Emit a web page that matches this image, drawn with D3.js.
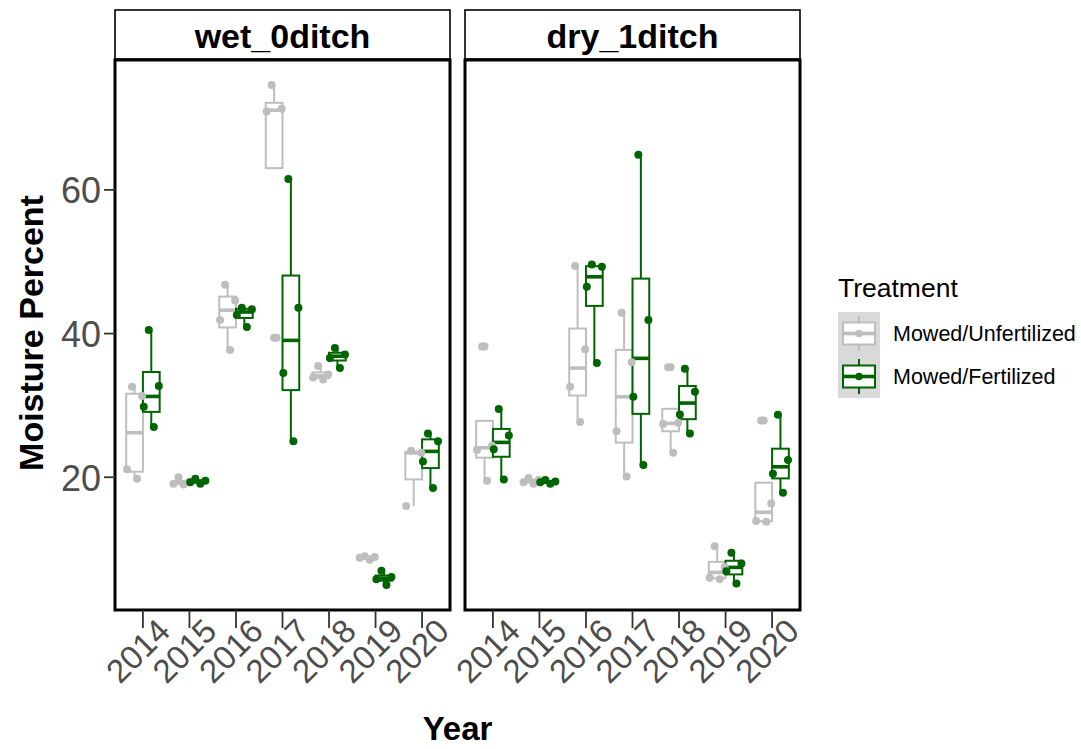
<!DOCTYPE html>
<html>
<head>
<meta charset="utf-8">
<script src="https://cdn.jsdelivr.net/npm/d3@7"></script>
<style>
  body { margin: 0; background: #ffffff; }
  svg { display: block; }
  text { font-family: "Liberation Sans", Arial, Helvetica, sans-serif; }
</style>
</head>
<body>
<svg id="chart" width="1081" height="749"></svg>
<script>
// ---- data: soil moisture (%) per plot, by year, site and treatment ----
const years = ["2014", "2015", "2016", "2017", "2018", "2019", "2020"];
const facets = ["wet_0ditch", "dry_1ditch"];
const treatments = ["Mowed/Unfertilized", "Mowed/Fertilized"];

// one inner array per year (same order as `years`)
const wetUnfertilized = [
  [32.6, 31.3, 21.1, 19.8],
  [20.0, 19.3, 19.1, 19.0],
  [46.8, 44.6, 41.9, 37.7],
  [74.6, 71.3, 70.9, 39.4],
  [35.5, 34.3, 33.9, 33.6],
  [9.0, 8.9, 8.8, 8.5],
  [23.7, 23.4, 16.0]
];
const wetFertilized = [
  [40.5, 32.7, 29.8, 27.0],
  [19.8, 19.5, 19.3, 19.1],
  [43.6, 43.4, 42.6, 40.9],
  [61.5, 43.6, 34.5, 25.0],
  [38.0, 37.1, 36.6, 35.2],
  [7.0, 6.1, 5.8, 5.0],
  [26.1, 25.0, 22.2, 18.5]
];
const dryUnfertilized = [
  [38.2, 24.4, 23.8, 19.5],
  [19.9, 19.6, 19.3, 19.1],
  [49.4, 37.8, 32.6, 27.7],
  [42.9, 36.0, 26.4, 20.1],
  [35.3, 27.6, 27.4, 23.4],
  [10.4, 7.5, 6.0, 5.8],
  [27.9, 16.35, 13.9, 13.8]
];
const dryFertilized = [
  [29.5, 25.8, 23.9, 19.7],
  [19.6, 19.4, 19.3, 19.1],
  [49.6, 49.3, 46.5, 35.9],
  [64.9, 41.9, 31.2, 21.7],
  [35.1, 31.9, 28.75, 26.1],
  [9.5, 8.0, 6.9, 5.2],
  [28.7, 22.4, 20.5, 17.85]
];
const yTicks = [20, 40, 60];

const seriesByFacet = {
  "wet_0ditch": { "Mowed/Unfertilized": wetUnfertilized, "Mowed/Fertilized": wetFertilized },
  "dry_1ditch": { "Mowed/Unfertilized": dryUnfertilized, "Mowed/Fertilized": dryFertilized }
};
const colour = d3.scaleOrdinal().domain(treatments).range(["#bebebe", "#006400"]);

// ---- layout ----
const svg = d3.select("#chart");
const panelTop = 60, panelBottom = 610;
const stripTop = 10, stripBottom = 59;
const panelLeft = 115, panelWidth = 335, panelGap = 15;

// shared y scale with 5% expansion on each side
const allValues = facets.flatMap(f => treatments.flatMap(t => seriesByFacet[f][t].flat()));
const [vMin, vMax] = d3.extent(allValues);
const pad = (vMax - vMin) * 0.05;
const y = d3.scaleLinear().domain([vMin - pad, vMax + pad]).range([panelBottom, panelTop]);

// Tukey box statistics (type-7 quantiles, 1.5 IQR whiskers)
function boxStats(values) {
  const s = values.slice().sort(d3.ascending);
  const q1 = d3.quantile(s, 0.25), med = d3.quantile(s, 0.5), q3 = d3.quantile(s, 0.75);
  const iqr = q3 - q1;
  const inside = s.filter(v => v >= q1 - 1.5 * iqr && v <= q3 + 1.5 * iqr);
  const outliers = s.filter(v => v < q1 - 1.5 * iqr || v > q3 + 1.5 * iqr);
  return { q1, med, q3, lo: Math.min(d3.min(inside), q1), hi: Math.max(d3.max(inside), q3), outliers };
}

// fixed jitter pattern (fraction of box width) so points sit beside each other
const jitterPattern = [-0.15, 0.45, -0.45, 0.15, 0.3];

facets.forEach((facet, fi) => {
  const x0 = panelLeft + fi * (panelWidth + panelGap);
  const x1 = x0 + panelWidth;
  const x = d3.scalePoint().domain(years).range([x0, x1]).padding(0.6);
  const step = x.step();
  const dodge = d3.scaleBand().domain(treatments).range([-0.36 * step, 0.36 * step]);
  const bw = dodge.bandwidth();

  const g = svg.append("g");

  // strip
  g.append("rect")
    .attr("x", x0).attr("y", stripTop)
    .attr("width", panelWidth).attr("height", stripBottom - stripTop)
    .attr("fill", "#ffffff").attr("stroke", "#000000").attr("stroke-width", 1.6);
  g.append("text")
    .attr("x", (x0 + x1) / 2).attr("y", (stripTop + stripBottom) / 2 + 1)
    .attr("text-anchor", "middle").attr("dominant-baseline", "central")
    .attr("font-size", 34).attr("font-weight", "bold").attr("fill", "#000000")
    .text(facet);

  // boxes
  treatments.forEach(tr => {
    const col = colour(tr);
    seriesByFacet[facet][tr].forEach((vals, yi) => {
      const cx = x(years[yi]) + dodge(tr) + bw / 2;
      const st = boxStats(vals);
      const bg = g.append("g").attr("stroke", col).attr("fill", "none");
      bg.append("line").attr("x1", cx).attr("x2", cx).attr("y1", y(st.q3)).attr("y2", y(st.hi)).attr("stroke-width", 2);
      bg.append("line").attr("x1", cx).attr("x2", cx).attr("y1", y(st.q1)).attr("y2", y(st.lo)).attr("stroke-width", 2);
      bg.append("rect")
        .attr("x", cx - bw / 2).attr("y", y(st.q3))
        .attr("width", bw).attr("height", Math.max(0, y(st.q1) - y(st.q3)))
        .attr("fill", "#ffffff").attr("stroke-width", 2);
      bg.append("line").attr("x1", cx - bw / 2).attr("x2", cx + bw / 2)
        .attr("y1", y(st.med)).attr("y2", y(st.med)).attr("stroke-width", 3.6);
      st.outliers.forEach(v => {
        g.append("circle").attr("cx", cx).attr("cy", y(v)).attr("r", 4).attr("fill", col);
      });
    });
  });

  // jittered observations
  treatments.forEach(tr => {
    const col = colour(tr);
    seriesByFacet[facet][tr].forEach((vals, yi) => {
      const cx = x(years[yi]) + dodge(tr) + bw / 2;
      vals.forEach((v, i) => {
        g.append("circle")
          .attr("cx", cx + jitterPattern[i % jitterPattern.length] * bw)
          .attr("cy", y(v)).attr("r", 4).attr("fill", col);
      });
    });
  });

  // panel border
  g.append("rect")
    .attr("x", x0).attr("y", panelTop)
    .attr("width", panelWidth).attr("height", panelBottom - panelTop)
    .attr("fill", "none").attr("stroke", "#000000").attr("stroke-width", 3);

  // x axis ticks and labels
  years.forEach(yr => {
    g.append("line").attr("x1", x(yr)).attr("x2", x(yr))
      .attr("y1", panelBottom).attr("y2", panelBottom + 18)
      .attr("stroke", "#333333").attr("stroke-width", 1.8);
    g.append("text")
      .attr("transform", `translate(${x(yr) + 12},${panelBottom + 6}) rotate(-45)`)
      .attr("text-anchor", "end").attr("dominant-baseline", "hanging")
      .attr("font-size", 33).attr("fill", "#4d4d4d")
      .text(yr);
  });
});

// y axis ticks and labels (left panel only)
yTicks.forEach(t => {
  svg.append("line").attr("x1", panelLeft - 11).attr("x2", panelLeft)
    .attr("y1", y(t)).attr("y2", y(t)).attr("stroke", "#333333").attr("stroke-width", 1.8);
  svg.append("text")
    .attr("x", panelLeft - 14).attr("y", y(t) + 1)
    .attr("text-anchor", "end").attr("dominant-baseline", "central")
    .attr("font-size", 36).attr("fill", "#4d4d4d")
    .text(t);
});

// axis titles
svg.append("text")
  .attr("transform", `translate(31,${(panelTop + panelBottom) / 2 - 2}) rotate(-90)`)
  .attr("text-anchor", "middle").attr("dominant-baseline", "central")
  .attr("font-size", 34).attr("font-weight", "bold").attr("fill", "#000000")
  .text("Moisture Percent");
svg.append("text")
  .attr("x", panelLeft + (2 * panelWidth + panelGap) / 2).attr("y", 740)
  .attr("text-anchor", "middle")
  .attr("font-size", 33).attr("font-weight", "bold").attr("fill", "#000000")
  .text("Year");

// legend
const lg = svg.append("g").attr("transform", "translate(838,0)");
lg.append("text").attr("x", 0).attr("y", 297)
  .attr("font-size", 26.5).attr("fill", "#000000").text("Treatment");
const keyW = 42, keyH = 43, keyTop = 312;
treatments.forEach((tr, i) => {
  const ky = keyTop + i * keyH;
  const col = colour(tr);
  lg.append("rect").attr("x", 0).attr("y", ky).attr("width", keyW).attr("height", keyH).attr("fill", "#d9d9d9");
  const cx = keyW / 2, cy = ky + keyH / 2;
  const kg = lg.append("g").attr("stroke", col).attr("fill", "none").attr("stroke-width", 2);
  kg.append("line").attr("x1", cx).attr("x2", cx).attr("y1", ky + 4).attr("y2", ky + keyH - 4);
  kg.append("rect").attr("x", 5).attr("y", cy - 11).attr("width", keyW - 10).attr("height", 22).attr("fill", "#ffffff");
  kg.append("line").attr("x1", 5).attr("x2", keyW - 5).attr("y1", cy).attr("y2", cy).attr("stroke-width", 3.6);
  lg.append("circle").attr("cx", cx).attr("cy", cy).attr("r", 3.8).attr("fill", col);
  lg.append("text").attr("x", 55).attr("y", cy).attr("dominant-baseline", "central")
    .attr("font-size", 21.5).attr("fill", "#000000").text(tr);
});
</script>
</body>
</html>
